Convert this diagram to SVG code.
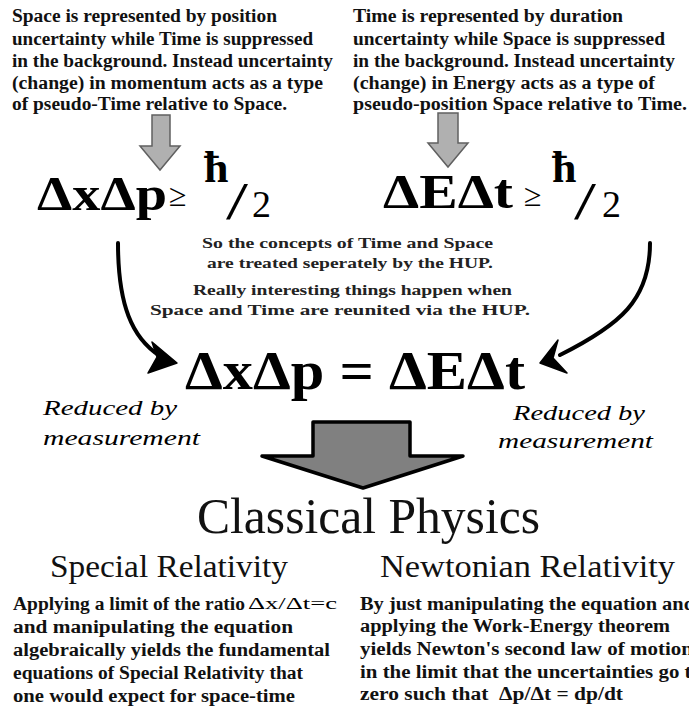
<svg xmlns="http://www.w3.org/2000/svg" width="689" height="711" viewBox="0 0 689 711" font-family="Liberation Serif, serif">
<style>
  text { font-family: 'Liberation Serif', 'Times New Roman', serif; }
  .t { font-weight: bold; font-size: 18px; fill: #111; }
  .c { font-weight: bold; font-size: 15.5px; fill: #222; }
  .eq { font-weight: bold; fill: #000; }
  .eqr { font-weight: normal; fill: #000; }
  .lab { font-style: italic; font-size: 22px; fill: #000; }
  .h { font-weight: normal; fill: #111; }
  .garrow { fill: #b0b0b0; stroke: #606060; stroke-width: 1.5; stroke-linejoin: miter; }
  .curve { fill: none; stroke: #000; stroke-width: 4; stroke-linecap: round; }
  .head { fill: #000; stroke: #000; stroke-width: 1.5; stroke-linejoin: round; }
</style>
<rect width="689" height="711" fill="#fff"/>

<g id="connectors">
  <polygon class="garrow" points="152,115 170,115 170,146 180,146 160,170 140,146 152,146"/>
  <polygon class="garrow" points="438,113 458,113 458,143 468,143 448,167 428,143 438,143"/>
  <path class="curve" d="M118,243 C118,305 132,338 160,356"/>
  <path class="head" d="M177,363 L152,342 L157,357 L148,373 Z"/>
  <path class="curve" d="M650,243 C650,300 620,325 560,355"/>
  <path class="head" d="M540,363 L558,340 L553,358 L567,373 Z"/>
  <path d="M313,422 L410,422 L410,456 L463,456 L363,488 L262,456 L313,456 Z" fill="#808080" stroke="#000" stroke-width="3.5" stroke-linejoin="round"/>
</g>

<g id="space-text">
  <text class="t" x="12" y="22" textLength="265" lengthAdjust="spacingAndGlyphs">Space is represented by position</text>
  <text class="t" x="12" y="45" textLength="301" lengthAdjust="spacingAndGlyphs">uncertainty while Time is suppressed</text>
  <text class="t" x="12" y="67" textLength="321" lengthAdjust="spacingAndGlyphs">in the background. Instead uncertainty</text>
  <text class="t" x="12" y="89" textLength="311" lengthAdjust="spacingAndGlyphs">(change) in momentum acts as a type</text>
  <text class="t" x="12" y="110" textLength="275" lengthAdjust="spacingAndGlyphs">of pseudo-Time relative to Space.</text>
</g>

<g id="time-text">
  <text class="t" x="353" y="22" textLength="270" lengthAdjust="spacingAndGlyphs">Time is represented by duration</text>
  <text class="t" x="353" y="45" textLength="312" lengthAdjust="spacingAndGlyphs">uncertainty while Space is suppressed</text>
  <text class="t" x="353" y="67" textLength="322" lengthAdjust="spacingAndGlyphs">in the background. Instead uncertainty</text>
  <text class="t" x="353" y="89" textLength="302" lengthAdjust="spacingAndGlyphs">(change) in Energy acts as a type of</text>
  <text class="t" x="353" y="110" textLength="334" lengthAdjust="spacingAndGlyphs">pseudo-position Space relative to Time.</text>
</g>

<g id="eq-position">
  <text class="eq" x="37" y="210" font-size="48" textLength="130" lengthAdjust="spacingAndGlyphs">ΔxΔp</text>
  <text class="eqr" x="169" y="206" font-size="32">≥</text>
  <text class="eq" x="204" y="182" font-size="44">ħ</text>
  <text class="eqr" x="226" y="219" font-size="52" textLength="22" lengthAdjust="spacingAndGlyphs">/</text>
  <text class="eqr" x="252" y="217" font-size="38">2</text>
</g>

<g id="eq-energy">
  <text class="eq" x="383" y="208" font-size="48" textLength="130" lengthAdjust="spacingAndGlyphs">ΔEΔt</text>
  <text class="eqr" x="524" y="206" font-size="32">≥</text>
  <text class="eq" x="552" y="182" font-size="44">ħ</text>
  <text class="eqr" x="574" y="219" font-size="52" textLength="22" lengthAdjust="spacingAndGlyphs">/</text>
  <text class="eqr" x="602" y="217" font-size="38">2</text>
</g>

<g id="note">
  <text class="c" x="202" y="248" textLength="291" lengthAdjust="spacingAndGlyphs">So the concepts of Time and Space</text>
  <text class="c" x="207" y="268" textLength="286" lengthAdjust="spacingAndGlyphs">are treated seperately by the HUP.</text>
  <text class="c" x="193" y="295" textLength="319" lengthAdjust="spacingAndGlyphs">Really interesting things happen when</text>
  <text class="c" x="150" y="315" textLength="380" lengthAdjust="spacingAndGlyphs">Space and Time are reunited via the HUP.</text>
</g>

<g id="eq-united">
  <text class="eq" x="185" y="389" font-size="54" textLength="340" lengthAdjust="spacingAndGlyphs">ΔxΔp = ΔEΔt</text>
</g>

<g id="label-left">
  <text class="lab" x="43" y="415" textLength="134" lengthAdjust="spacingAndGlyphs">Reduced by</text>
  <text class="lab" x="43" y="445" textLength="157" lengthAdjust="spacingAndGlyphs">measurement</text>
</g>

<g id="label-right">
  <text class="lab" x="513" y="420" textLength="132" lengthAdjust="spacingAndGlyphs">Reduced by</text>
  <text class="lab" x="498" y="448" textLength="155" lengthAdjust="spacingAndGlyphs">measurement</text>
</g>

<g id="classical-physics">
  <text class="h" x="197" y="533" font-size="50" textLength="343" lengthAdjust="spacingAndGlyphs">Classical Physics</text>
</g>

<g id="special-relativity">
  <text class="h" x="50" y="577" font-size="32" textLength="238" lengthAdjust="spacingAndGlyphs">Special Relativity</text>
  <text class="t" x="13" y="610" textLength="232" lengthAdjust="spacingAndGlyphs">Applying a limit of the ratio</text>
  <text class="eqr" x="248" y="609" font-size="16" textLength="89" lengthAdjust="spacingAndGlyphs">Δx/Δt=c</text>
  <text class="t" x="13" y="633" textLength="280" lengthAdjust="spacingAndGlyphs">and manipulating the equation</text>
  <text class="t" x="13" y="656" textLength="317" lengthAdjust="spacingAndGlyphs">algebraically yields the fundamental</text>
  <text class="t" x="13" y="679" textLength="290" lengthAdjust="spacingAndGlyphs">equations of Special Relativity that</text>
  <text class="t" x="13" y="702" textLength="282" lengthAdjust="spacingAndGlyphs">one would expect for space-time</text>
</g>

<g id="newtonian-relativity">
  <text class="h" x="380" y="577" font-size="32" textLength="295" lengthAdjust="spacingAndGlyphs">Newtonian Relativity</text>
  <text class="t" x="360" y="610" textLength="335" lengthAdjust="spacingAndGlyphs">By just manipulating the equation and</text>
  <text class="t" x="360" y="632" textLength="310" lengthAdjust="spacingAndGlyphs">applying the Work-Energy theorem</text>
  <text class="t" x="360" y="655" textLength="333" lengthAdjust="spacingAndGlyphs">yields Newton's second law of motion</text>
  <text class="t" x="360" y="678" textLength="342" lengthAdjust="spacingAndGlyphs">in the limit that the uncertainties go to</text>
  <text class="t" x="360" y="700" textLength="263" lengthAdjust="spacingAndGlyphs" xml:space="preserve">zero such that  Δp/Δt = dp/dt</text>
</g>
</svg>
